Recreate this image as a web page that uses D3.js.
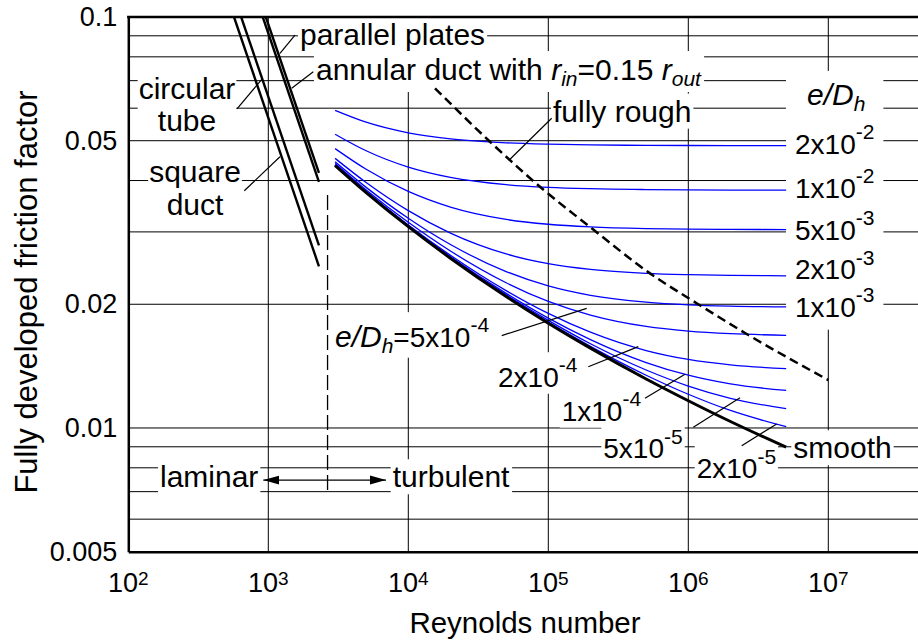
<!DOCTYPE html>
<html><head><meta charset="utf-8">
<script src="https://cdn.jsdelivr.net/npm/d3@7"></script>
<style>
body{margin:0;background:#fff;}
svg{display:block;font-family:"Liberation Sans",Arial,sans-serif;}
</style></head><body>
<svg id="c" width="918" height="640"></svg>
<script>
// ---------------- data ----------------
const reTurbulent = [3000, 5000, 1e4, 2e4, 5e4, 1e5, 2e5, 5e5, 1e6, 2e6, 5e6];
const fRough2e2 = [0.05928, 0.05548, 0.05227, 0.05052, 0.04941, 0.04903, 0.04883, 0.04872, 0.04868, 0.04866, 0.04865];
const fRough1e2 = [0.05186, 0.04726, 0.04313, 0.04071, 0.03908, 0.03850, 0.03821, 0.03803, 0.03796, 0.03793, 0.03792];
const fRough5e3 = [0.04784, 0.04261, 0.03763, 0.03447, 0.03217, 0.03131, 0.03085, 0.03056, 0.03046, 0.03042, 0.03039];
const fRough2e3 = [0.04529, 0.03956, 0.03379, 0.02979, 0.02651, 0.02511, 0.02431, 0.02379, 0.02361, 0.02351, 0.02346];
const fRough1e3 = [0.04443, 0.03850, 0.03238, 0.02795, 0.02402, 0.02217, 0.02103, 0.02024, 0.01994, 0.01979, 0.01970];
const fRough5e4 = [0.04400, 0.03794, 0.03165, 0.02695, 0.02256, 0.02032, 0.01882, 0.01766, 0.01721, 0.01696, 0.01681];
const fRough2e4 = [0.04372, 0.03760, 0.03119, 0.02633, 0.02159, 0.01900, 0.01710, 0.01543, 0.01468, 0.01424, 0.01394];
const fRough1e4 = [0.04361, 0.03750, 0.03104, 0.02611, 0.02126, 0.01851, 0.01641, 0.01443, 0.01344, 0.01280, 0.01234];
const fRough5e5 = [0.04356, 0.03745, 0.03095, 0.02600, 0.02108, 0.01827, 0.01603, 0.01384, 0.01265, 0.01181, 0.01114];
const fRough2e5 = [0.04354, 0.03742, 0.03091, 0.02593, 0.02097, 0.01810, 0.01580, 0.01344, 0.01208, 0.01103, 0.01007];
const fSmooth   = [0.04353, 0.03740, 0.03089, 0.02589, 0.02089, 0.01799, 0.01564, 0.01316, 0.01165, 0.01037, 0.00898];

// laminar lines: circular tube, square duct, parallel plates, annular duct (end points)
const laminarNames = ["circular tube", "square duct", "parallel plates", "annular duct"];
const laminarReStart = [640, 569, 960, 913];
const laminarFStart = [0.1, 0.1, 0.1, 0.1];
const laminarReEnd = [2300, 2300, 2300, 2300];
const laminarFEnd = [0.02783, 0.02474, 0.04174, 0.0397];

// fully rough boundary
const reFullyRough = [15510, 38340, 89740, 204200, 532500, 1148000, 2683000, 1e7];
const fFullyRough = [0.06708, 0.04972, 0.03831, 0.03061, 0.02378, 0.02011, 0.01684, 0.01308];

// laminar / turbulent transition marker
const reTransition = 2650;
const fTransition = [0.0369, 0.00695];
const reArrow = [921, 6930];
const fArrow = 0.00747;

// axes
const xTicks = [1e2, 1e3, 1e4, 1e5, 1e6, 1e7];
const xTickExp = ["2", "3", "4", "5", "6", "7"];
const yTicks = [0.1, 0.05, 0.02, 0.01, 0.005];
const xGrid = [1e3, 1e4, 1e5, 1e6, 1e7];
const yGrid = [0.006, 0.007, 0.008, 0.009, 0.01, 0.02, 0.03, 0.04, 0.05, 0.06, 0.07, 0.08, 0.09];

// leader lines [Re1, f1, Re2, f2]
const leaders = [
  [1551, 0.0904, 1212, 0.0816],
  [2096, 0.0736, 1469, 0.0671],
  [597.6, 0.05973, 901.6, 0.07064],
  [674, 0.03779, 1212, 0.04571],
  [105700, 0.0567, 53260, 0.04506],
  [46480, 0.01678, 188100, 0.01955],
  [193100, 0.01409, 439500, 0.01577],
  [490700, 0.01181, 947100, 0.01351],
  [1086000, 0.01004, 2341000, 0.01185],
  [2407000, 0.009055, 4280000, 0.01023]
];

// ---------------- drawing ----------------
const svg = d3.select("#c");
const W = 918;
const x = d3.scaleLog().domain([1e2, 1e8]).range([128.3, 968.3]);
const y = d3.scaleLog().domain([0.005, 0.1]).range([551.7, 17]);

svg.append("defs").append("clipPath").attr("id", "plot")
  .append("rect").attr("x", x(1e2)).attr("y", y(0.1)).attr("width", W - x(1e2)).attr("height", y(0.005) - y(0.1));
svg.select("defs").append("marker").attr("id", "ah").attr("viewBox", "0 0 16 10")
  .attr("refX", 16).attr("refY", 5).attr("markerWidth", 16).attr("markerHeight", 10)
  .attr("markerUnits", "userSpaceOnUse").attr("orient", "auto-start-reverse")
  .append("path").attr("d", "M0,0.5L16,5L0,9.5Z").attr("fill", "#000");

const gGrid = svg.append("g");
const gBg = svg.append("g");
const gCurves = svg.append("g").attr("clip-path", "url(#plot)");
const gLead = svg.append("g");
const gText = svg.append("g");

gGrid.selectAll("line.h").data(yGrid).join("line")
  .attr("x1", x(1e2)).attr("x2", W).attr("y1", d => y(d)).attr("y2", d => y(d))
  .attr("stroke", "#000").attr("stroke-width", 1);
gGrid.selectAll("line.v").data(xGrid).join("line")
  .attr("y1", y(0.1)).attr("y2", y(0.005)).attr("x1", d => x(d)).attr("x2", d => x(d))
  .attr("stroke", "#000").attr("stroke-width", 1);

// curves
const line = d3.line().x(d => x(d[0])).y(d => y(d[1])).curve(d3.curveMonotoneX);
const roughSeries = [fRough2e2, fRough1e2, fRough5e3, fRough2e3, fRough1e3, fRough5e4, fRough2e4, fRough1e4, fRough5e5, fRough2e5];
roughSeries.forEach(fs => {
  gCurves.append("path").attr("d", line(reTurbulent.map((r, i) => [r, fs[i]])))
    .attr("fill", "none").attr("stroke", "#0000ff").attr("stroke-width", 1.3);
});
gCurves.append("path").attr("d", line(reTurbulent.map((r, i) => [r, fSmooth[i]])))
  .attr("fill", "none").attr("stroke", "#000").attr("stroke-width", 3);

laminarNames.forEach((n, i) => {
  gCurves.append("line")
    .attr("x1", x(laminarReStart[i])).attr("y1", y(laminarFStart[i]))
    .attr("x2", x(laminarReEnd[i])).attr("y2", y(laminarFEnd[i]))
    .attr("stroke", "#000").attr("stroke-width", 2.4);
});

gCurves.append("path").attr("d", line(reFullyRough.map((r, i) => [r, fFullyRough[i]])))
  .attr("fill", "none").attr("stroke", "#000").attr("stroke-width", 2.5).attr("stroke-dasharray", "9,5");

gCurves.append("line").attr("x1", x(reTransition)).attr("x2", x(reTransition))
  .attr("y1", y(fTransition[0])).attr("y2", y(fTransition[1]))
  .attr("stroke", "#000").attr("stroke-width", 1.3).attr("stroke-dasharray", "15,5");

gCurves.append("line").attr("x1", x(reArrow[0])).attr("x2", x(reArrow[1]))
  .attr("y1", y(fArrow)).attr("y2", y(fArrow))
  .attr("stroke", "#000").attr("stroke-width", 1.3)
  .attr("marker-start", "url(#ah)").attr("marker-end", "url(#ah)");

gLead.selectAll("line").data(leaders).join("line")
  .attr("x1", d => x(d[0])).attr("y1", d => y(d[1])).attr("x2", d => x(d[2])).attr("y2", d => y(d[3]))
  .attr("stroke", "#000").attr("stroke-width", 1.2);

// text helper
function addSegs(t, segs) {
  let shift = 0;
  segs.forEach(s => {
    const ts = t.append("tspan").text(s.t);
    let target = 0;
    if (s.sup) target = -s.sup;
    if (s.sub) target = s.sub;
    if (target - shift !== 0) ts.attr("dy", target - shift);
    shift = target;
    if (s.size) ts.attr("font-size", s.size);
    if (s.i) ts.attr("font-style", "italic");
  });
}
const W30 = 30, E28 = 28;
const exp = (m, e) => [{t: m + "x10"}, {t: e, sup: 14.5, size: 21}];
const annotations = [
  {pad: [2, 2], size: W30, items: [{re: 1684, f: 0.0855, a: "start", s: [{t: "parallel plates"}]}]},
  {pad: [2, 2], size: W30, items: [{re: 2191, f: 0.07025, a: "start", s: [
    {t: "annular duct with "}, {t: "r", i: 1}, {t: "in", i: 1, sub: 6, size: 21}, {t: "=0.15 "},
    {t: "r", i: 1}, {t: "out", i: 1, sub: 6, size: 21}]}]},
  {pad: [1, 1], size: W30, items: [
    {re: 262.6, f: 0.06307, a: "middle", s: [{t: "circular"}]},
    {re: 262.6, f: 0.05289, a: "middle", s: [{t: "tube"}]}]},
  {pad: [1, 1], size: W30, items: [
    {re: 299.5, f: 0.03975, a: "middle", s: [{t: "square"}]},
    {re: 299.5, f: 0.03298, a: "middle", s: [{t: "duct"}]}]},
  {pad: [2, 1], size: W30, items: [{re: 108000, f: 0.05564, a: "start", s: [{t: "fully rough"}]}]},
  {pad: [9, 7], size: E28, items: [
    {re: 7046000, f: 0.0611, a: "start", s: [{t: "e/D", i: 1, size: W30}, {t: "h", i: 1, sub: 6, size: 21}]},
    {re: 5783000, f: 0.04642, a: "start", s: exp("2", "-2")},
    {re: 5783000, f: 0.03628, a: "start", s: exp("1", "-2")},
    {re: 5783000, f: 0.02867, a: "start", s: exp("5", "-3")},
    {re: 5783000, f: 0.023, a: "start", s: exp("2", "-3")},
    {re: 5783000, f: 0.01866, a: "start", s: exp("1", "-3")}]},
  {pad: [2, 1], size: E28, items: [{re: 2995, f: 0.01577, a: "start", s: [
    {t: "e/D", i: 1, size: W30}, {t: "h", i: 1, sub: 6, size: 21}, {t: "=5x10"}, {t: "-4", sup: 14.5, size: 21}]}]},
  {pad: [2, 1], size: E28, items: [{re: 43720, f: 0.0126, a: "start", s: exp("2", "-4")}]},
  {pad: [2, 1], size: E28, items: [{re: 124600, f: 0.01042, a: "start", s: exp("1", "-4")}]},
  {pad: [2, 1], size: E28, items: [{re: 247100, f: 0.00844, a: "start", s: exp("5", "-5")}]},
  {pad: [2, 1], size: E28, items: [{re: 1148000, f: 0.007546, a: "start", s: exp("2", "-5")}]},
  {pad: [2, 1], size: W30, items: [{re: 5623000, f: 0.00844, a: "start", s: [{t: "smooth"}]}]},
  {pad: [2, 1], size: W30, items: [{re: 168.4, f: 0.007173, a: "start", s: [{t: "laminar"}]}]},
  {pad: [2, 1], size: W30, items: [{re: 7737, f: 0.007173, a: "start", s: [{t: "turbulent"}]}]}
];
annotations.forEach(an => {
  const g = gText.append("g").attr("font-size", an.size);
  an.items.forEach(it => {
    const t = g.append("text").attr("x", x(it.re)).attr("y", y(it.f)).attr("text-anchor", it.a).attr("fill", "#000");
    addSegs(t, it.s);
  });
  const b = g.node().getBBox();
  gBg.append("rect").attr("x", b.x - an.pad[0]).attr("y", b.y - an.pad[1])
    .attr("width", b.width + 2 * an.pad[0]).attr("height", b.height + 2 * an.pad[1]).attr("fill", "#fff");
});

// axes
const yAxis = d3.axisLeft(y).tickValues(yTicks).tickSize(0).tickPadding(11).tickFormat(d3.format(""));
svg.append("g").attr("transform", `translate(${x(1e2)},0)`).call(yAxis)
  .call(g => g.select(".domain").attr("stroke-width", 2.5))
  .call(g => g.selectAll("text").attr("font-size", 27).attr("font-family", "Liberation Sans, Arial, sans-serif").attr("fill", "#000"));
const xAxis = d3.axisBottom(x).tickValues(xTicks).tickSize(0).tickSizeOuter(0).tickFormat("");
svg.append("g").attr("transform", `translate(0,${y(0.005)})`).call(xAxis)
  .call(g => g.select(".domain").attr("stroke-width", 2.5));
svg.append("line").attr("x1", x(1e2) - 1.2).attr("x2", W).attr("y1", y(0.1)).attr("y2", y(0.1))
  .attr("stroke", "#000").attr("stroke-width", 2.5);

const gx = svg.append("g").attr("font-size", 27);
xTicks.forEach((v, i) => {
  const t = gx.append("text").attr("x", x(v)).attr("y", 591.7).attr("text-anchor", "middle");
  addSegs(t, [{t: "10"}, {t: xTickExp[i], sup: 7, size: 19}]);
});

svg.append("text").attr("x", 525).attr("y", 633).attr("text-anchor", "middle").attr("font-size", 29.5)
  .text("Reynolds number");
svg.append("text").attr("transform", "translate(37,292) rotate(-90)").attr("text-anchor", "middle").attr("font-size", 31)
  .text("Fully developed friction factor");
</script>
</body></html>
